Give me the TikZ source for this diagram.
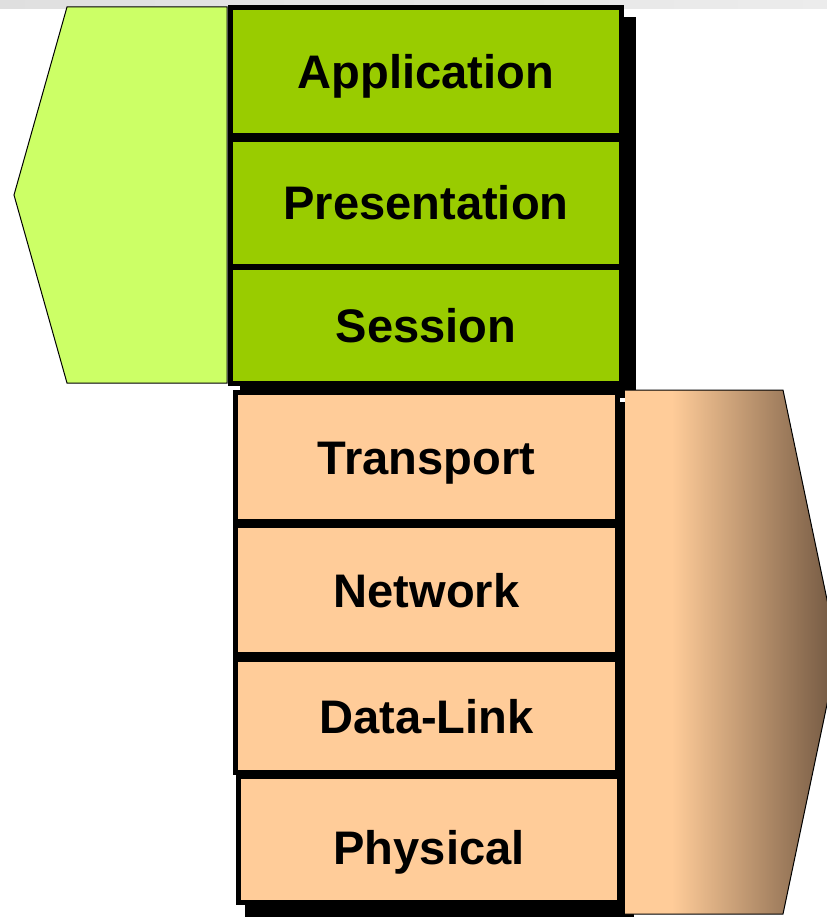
\documentclass[tikz,border=0pt]{standalone}
\usepackage{fontspec}
\setmainfont{Liberation Sans}
\usetikzlibrary{backgrounds}

\begin{document}
\begin{tikzpicture}[x=0.02cm, y=-0.02cm,
  layer/.style={draw=black, line width=0.1cm, inner sep=0pt,
    text height=0.68cm, text depth=0pt,
    font=\fontsize{26.8}{32}\selectfont\bfseries},
  upper/.style={layer, fill=osi_green, minimum width=7.84cm},
  lower/.style={layer, fill=osi_peach, minimum width=7.64cm},
  stackshadow/.style={fill=black}]
\definecolor{osi_green}{RGB}{153,204,0}
\definecolor{osi_lime}{RGB}{204,255,102}
\definecolor{osi_peach}{RGB}{255,204,153}
\definecolor{osi_brown}{RGB}{112,86,64}
\definecolor{osi_teal}{RGB}{92,160,180}
\pgfdeclarehorizontalshading{peachfade}{100bp}{color(0bp)=(osi_peach); color(36bp)=(osi_peach); color(75bp)=(osi_brown); color(100bp)=(osi_brown)}
\useasboundingbox (0,0) rectangle (827,919);
\clip (0,0) rectangle (827,919);
% banner strip along the top
\shade[left color=gray!25, middle color=osi_teal!70!gray, right color=gray!15] (0,0) rectangle (827,9);
% bracket for the upper layers
\draw[fill=osi_lime, line width=0.02cm] (67,7) -- (227,7) -- (227,383) -- (67,383) -- (14,195) -- cycle;
% upper layers
\node[upper, minimum height=2.56cm] (app) at (426,71.5) {Application};
\node[upper, minimum height=2.54cm] (pres) at (426,203) {Presentation};
\node[upper, minimum height=2.32cm] (sess) at (426,325.5) {Session};
% lower layers
\node[lower, minimum height=2.58cm] (trans) at (426.5,457) {Transport};
\node[lower, minimum height=2.58cm] (net) at (426.5,590) {Network};
\node[lower, minimum height=2.26cm] (link) at (426.5,716) {Data-Link};
\node[lower, minimum height=2.52cm, text height=1cm] (phys) at (429,839.5) {Physical};
% solid shadows behind both stacks
\begin{scope}[on background layer]
\fill[stackshadow] ([shift={(12,12)}]app.north west) rectangle ([shift={(12,12)}]sess.south east);
\fill[stackshadow] ([shift={(12,12)}]trans.north west) rectangle ([shift={(12,12)}]phys.south east);
\end{scope}
% bracket for the lower layers
\shade[shading=peachfade] (625,390) -- (783,390) -- (838,652) -- (783,914) -- (625,914) -- cycle;
\draw[line width=0.02cm] (625,390) -- (783,390) -- (838,652) -- (783,914) -- (625,914);
\end{tikzpicture}
\end{document}
